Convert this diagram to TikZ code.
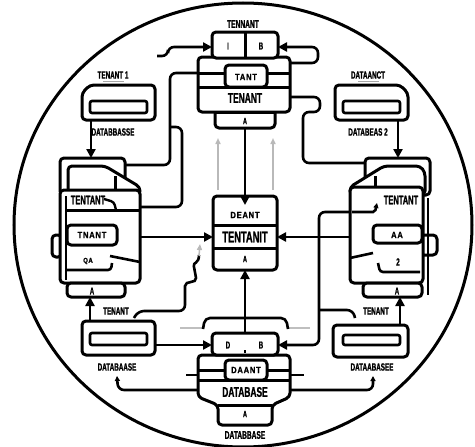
\documentclass[tikz,border=0pt]{standalone}
\usepackage{fontspec}
\setmainfont{Liberation Sans}
\newfontfamily\cf[FakeStretch=0.6,FakeBold=1.2]{Liberation Sans}
\newfontfamily\cs[FakeStretch=0.85,FakeBold=0.8,LetterSpace=8]{Liberation Sans}
\usetikzlibrary{arrows.meta}
\newcommand\fz[1]{\fontsize{#1}{#1}\selectfont}
\tikzset{
  box/.style={line width=3pt, rounded corners=4pt, fill=white, line join=round},
  wire/.style={line width=2.6pt, rounded corners=6pt},
  arr/.style={wire, -{Triangle[length=9pt,width=9pt]}},
  tip/.style={wire, -{Triangle[length=5pt,width=5pt]}},
  gwire/.style={line width=1.5pt, gray!55, -{Triangle[length=6pt,width=5pt]}},
  bar/.style={line width=2.6pt, rounded corners=2pt, fill=white},
  lbl/.style={inner sep=0pt, font=\cf\bfseries},
  sml/.style={inner sep=0pt, font=\cs\bfseries},
}
\begin{document}
\begin{tikzpicture}[x=1pt,y=-1pt]
\useasboundingbox (0,0) rectangle (475,447);

% outer ring
\draw[line width=3pt] (243,225) ellipse [x radius=229pt, y radius=222pt];

% ---------- named anchor points ----------
\coordinate (topA)   at (245,128);
\coordinate (ctrTop) at (245,205);
\coordinate (ctrBot) at (245,270);
\coordinate (botTop) at (245,333);
\coordinate (ctrL)   at (213,237);
\coordinate (ctrR)   at (277,237);
\coordinate (lcRow)  at (117,237);
\coordinate (rcRow)  at (373,237);

% ---------- connectors ----------
% into the I|B box
\draw[arr] (157,56) -- (168,56) -- (168,47) -- (212,47);
\draw[arr] (290,63) -- (318,63) -- (318,47) -- (278,47);
% top unit to the side units
\draw[wire] (198,73) -- (170,73) -- (170,165) -- (125,165);
\draw[wire] (170,127) -- (182,127) -- (182,207) -- (138,207);
\draw[wire] (290,97) -- (320,97) -- (320,112) -- (303,112) -- (303,163) -- (365,163);
% side units into the centre
\draw[arr] (lcRow) -- (ctrL);
\draw[arr] (rcRow) -- (ctrR);
% bottom unit into the centre
\draw[arr] (botTop) -- (ctrBot);
% right side loop down to the bottom unit
\draw[arr] (372,212) -- (319,212) -- (319,345) -- (278,345);
\draw[wire] (319,310) -- (353,310) -- (355,318);
\draw[tip, rounded corners=2pt] (368,212) -- (375,212) -- (377,203);
% left lower wire with grey end
\draw[wire] (134,318) -- (138,311) -- (185,311) -- (185,292)
  .. controls (185,280) and (197,284) .. (195,272)
  .. controls (193,262) and (199,264) .. (199,255);
\draw[gwire] (199,256) -- (200,244);
% faint grey guides above the centre box
\draw[gwire] (218,190) -- (218,138);
\draw[gwire] (273,190) -- (273,138);
% database wires near the bottom unit
\draw[arr] (155,345) -- (212,345);
\draw[tip] (198,390) -- (118,390) -- (117,376);
\draw[tip] (290,390) -- (373,390) -- (373,376);
\draw[wire] (186,375) -- (198,375);
\draw[wire] (290,375) -- (304,375);
% bracket over the bottom unit
\draw[line width=1.5pt, gray!50] (180,328) -- (203,328);
\draw[line width=1.5pt, gray!50] (288,328) -- (310,328);
\draw[wire, rounded corners=5pt] (203,329) -- (205,318) -- (286,318) -- (288,329);
\draw[line width=2.6pt] (245,318) -- (245,333);

% database icons to the side units
\draw[arr] (91,120) -- (91,158);
\draw[arr] (398,120) -- (398,158);
\draw[arr] (90,320) -- (90,297);
\draw[arr] (400,325) -- (400,297);

% ---------- top unit ----------
\draw[box] (215,105) rectangle (275,128);
\draw[box] (198,57) rectangle (290,112);
\draw[box] (225,65) rectangle (267,87);
\draw[line width=3pt] (198,73) -- (225,73) (267,73) -- (290,73) (198,87) -- (290,87);
\draw[box] (212,32) rectangle (278,58);
\draw[line width=3pt] (245,32) -- (245,58);
\draw[line width=3pt] (215,112) -- (275,112);

% ---------- centre unit ----------
\draw[box] (213,196) rectangle (277,270);
\draw[line width=3pt] (213,225) -- (277,225) (213,248) -- (277,248);
\draw[arr] (topA) -- (ctrTop);

% ---------- bottom unit ----------
\draw[box] (198,355) -- (290,355) -- (290,397) -- (272,405) -- (272,425)
  -- (218,425) -- (218,405) -- (198,397) -- cycle;
\draw[line width=3pt] (218,405) -- (272,405);
\draw[box] (225,360) rectangle (267,380);
\draw[line width=3pt] (198,370) -- (225,370) (267,370) -- (290,370) (198,380) -- (290,380);
\draw[box] (212,333) rectangle (278,355);
\draw[line width=1.5pt] (245,350) -- (245,353);

% ---------- left unit ----------
\draw[box] (52,235) rectangle (62,257);
\draw[box] (60,158) rectangle (125,195);
\draw[box] (68,195) -- (68,166) -- (105,166) -- (140,187) -- (140,195) -- cycle;
\draw[line width=3pt] (115,176) -- (115,192);
\draw[box] (60,190) rectangle (140,283);
\draw[line width=2pt] (66,196) -- (66,280);
\draw[line width=3pt] (66,210) -- (140,210);
\draw[line width=2.4pt, rounded corners=3pt] (104,199) -- (114,202) -- (116,210);
\draw[box] (67,225) rectangle (117,245);
\draw[line width=2.6pt] (110,256) -- (140,262);
\draw[line width=2.6pt, rounded corners=3pt] (67,270) -- (111,270) -- (112,263);
\draw[box] (67,283) rectangle (125,297);

% ---------- right unit ----------
\draw[box] (420,235) rectangle (437,255);
\draw[box] (365,158) rectangle (430,195);
\draw[box] (350,195) -- (350,187) -- (384,166) -- (420,166) -- (425,172) -- (425,195) -- cycle;
\draw[line width=3pt] (375,176) -- (375,192);
\draw[box] (350,187) rectangle (423,283);
\draw[line width=2pt] (428,198) -- (428,295);
\draw[tip, rounded corners=2pt] (352,212) -- (375,212) -- (377,203);
\draw[box] (373,225) rectangle (422,243);
\draw[line width=2.6pt] (350,258) -- (373,253);
\draw[line width=2.6pt, rounded corners=3pt] (378,263) -- (380,272) -- (420,272);
\draw[box] (363,283) rectangle (422,297);

% ---------- database icons ----------
\draw[box] (90,85) -- (155,85) -- (155,120) -- (82,120) -- (82,93) -- cycle;
\draw[bar] (90,101) rectangle (147,113);
\draw[box] (335,85) -- (400,85) -- (408,93) -- (408,120) -- (335,120) -- cycle;
\draw[bar] (343,101) rectangle (400,113);
\draw[box] (82,321) rectangle (155,355);
\draw[bar] (90,333) rectangle (147,345);
\draw[box] (333,325) rectangle (408,357);
\draw[bar] (343,335) rectangle (400,345);
\draw[line width=0.8pt, gray!70] (103,81) -- (124,81);
\draw[line width=0.8pt, gray!70] (358,81) -- (379,81);

% ---------- labels ----------
\node[lbl] (tTop)  at (243,24)  {\fz{11}TENNANT};
\node[lbl] (tI)    at (228,46)  {\fz{10}I};
\node[lbl] (tB)    at (261,46)  {\fz{10}B};
\node[sml] (tTant) at (246,77)  {\fz{9}TANT};
\node[lbl] (tTen)  at (245,98)  {\fz{14}TENANT};
\node[lbl] (tA1)   at (245,121) {\fz{9}A};

\node[lbl] (t1)    at (113,75)  {\fz{10.5}TENANT 1};
\node[lbl] (db1)   at (113,132) {\fz{10.5}DATABBASSE};
\node[lbl] (t2)    at (368,75)  {\fz{10.5}DATAANCT};
\node[lbl] (db2)   at (368,132) {\fz{10.5}DATABEAS 2};

\node[lbl] (lTen)  at (88,200)  {\fz{12.5}TENTANT};
\node[sml] (lTn)   at (92,235)  {\fz{9}TNANT};
\node[sml] (lQa)   at (88,261)  {\fz{7}QA};
\node[lbl] (lA)    at (92,291)  {\fz{10}A};

\node[lbl] (rTen)  at (401,200) {\fz{12.5}TENTANT};
\node[sml] (rAa)   at (397,235) {\fz{9}AA};
\node[lbl] (r2)    at (398,262) {\fz{10.5}2};
\node[lbl] (rA)    at (397,291) {\fz{10}A};

\node[sml] (cDe)   at (245,215) {\fz{9}DEANT};
\node[lbl] (cTen)  at (245,237) {\fz{15.5}TENTANIT};
\node[lbl] (cA)    at (245,259) {\fz{9}A};

\node[lbl] (bD)    at (228,345) {\fz{10}D};
\node[lbl] (bB)    at (261,345) {\fz{10}B};
\node[sml] (bDa)   at (246,370) {\fz{9}DAANT};
\node[lbl] (bDb)   at (245,392) {\fz{14}DATABASE};
\node[lbl] (bA)    at (245,414) {\fz{9}A};
\node[lbl] (bDbb)  at (245,435) {\fz{11}DATABBASE};

\node[lbl] (lt3)   at (116,311) {\fz{10.5}TENANT};
\node[lbl] (ldb3)  at (117,367) {\fz{10.5}DATABAASE};
\node[lbl] (rt3)   at (376,311) {\fz{10.5}TENANT};
\node[lbl] (rdb3)  at (372,367) {\fz{10.5}DATAABASEE};
\end{tikzpicture}
\end{document}
